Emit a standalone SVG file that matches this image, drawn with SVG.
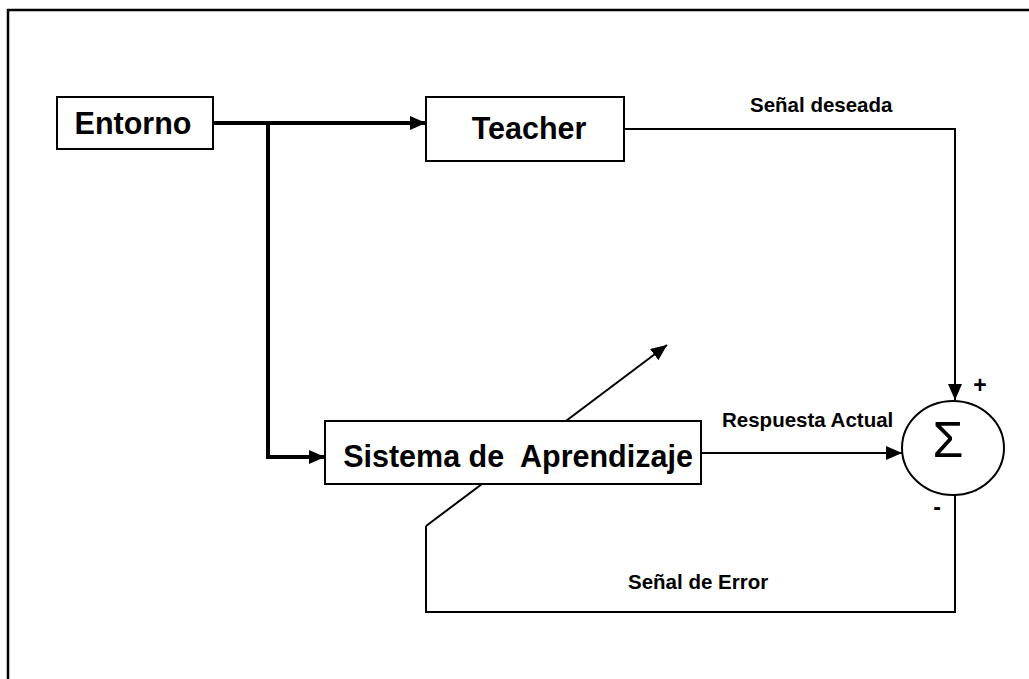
<svg xmlns="http://www.w3.org/2000/svg" width="1029" height="679" viewBox="0 0 1029 679">
<defs>
<style>
.box{fill:#fff;stroke:#000;stroke-width:2}
.big{font-family:"Liberation Sans",Arial,sans-serif;font-weight:bold;font-size:30.5px;fill:#000}
.lbl{font-family:"Liberation Sans",Arial,sans-serif;font-weight:bold;font-size:20.5px;fill:#000}
.sign{font-family:"Liberation Sans",Arial,sans-serif;font-weight:bold;font-size:23px;fill:#000}
.thin{fill:none;stroke:#000;stroke-width:2}
.thick{fill:none;stroke:#000;stroke-width:4}
</style>
<marker id="ah" markerWidth="8" markerHeight="7" refX="8" refY="3.5" orient="auto" markerUnits="strokeWidth">
<path d="M0,0 L8,3.5 L0,7 Z" fill="#000"/>
</marker>
<marker id="ahk" markerWidth="4" markerHeight="3.5" refX="4" refY="1.75" orient="auto" markerUnits="strokeWidth">
<path d="M0,0 L4,1.75 L0,3.5 Z" fill="#000"/>
</marker>
</defs>
<rect width="1029" height="679" fill="#fff"/>
<polyline points="8,679 8,10 1029,10" fill="none" stroke="#000" stroke-width="2.5"/>
<g id="connectors">
<polyline class="thick" points="213,123 426,123" marker-end="url(#ahk)"/>
<polyline class="thick" points="268,123 268,457 325,457" marker-end="url(#ahk)"/>
<polyline class="thin" points="624,129 955,129 955,400" marker-end="url(#ah)"/>
<line class="thin" x1="701" y1="453" x2="902" y2="453" marker-end="url(#ah)"/>
<line class="thin" x1="426" y1="526" x2="667" y2="345" marker-end="url(#ah)"/>
<polyline class="thin" points="426,526 426,612 955,612 955,495"/>
</g>
<g id="entorno">
<rect class="box" x="57" y="97" width="156" height="52"/>
<text class="big" x="133" y="134" text-anchor="middle">Entorno</text>
</g>
<g id="teacher">
<rect class="box" x="426" y="97" width="198" height="64"/>
<text class="big" x="529" y="139" text-anchor="middle">Teacher</text>
</g>
<g id="sistema">
<rect class="box" x="325" y="421" width="376" height="63"/>
<text class="big" x="518" y="467" text-anchor="middle" xml:space="preserve">Sistema de  Aprendizaje</text>
</g>
<g id="suma">
<ellipse cx="953" cy="448" rx="51" ry="47" fill="#fff" stroke="#000" stroke-width="2"/>
<text x="948" y="457" text-anchor="middle" font-family="Liberation Sans,Arial,sans-serif" font-size="50">Σ</text>
<text class="sign" x="980" y="393" text-anchor="middle">+</text>
<text class="sign" x="937" y="515" text-anchor="middle">-</text>
</g>
<g id="labels">
<text class="lbl" x="750" y="112">Señal deseada</text>
<text class="lbl" x="722" y="427">Respuesta Actual</text>
<text class="lbl" x="628" y="589">Señal de Error</text>
</g>
</svg>
